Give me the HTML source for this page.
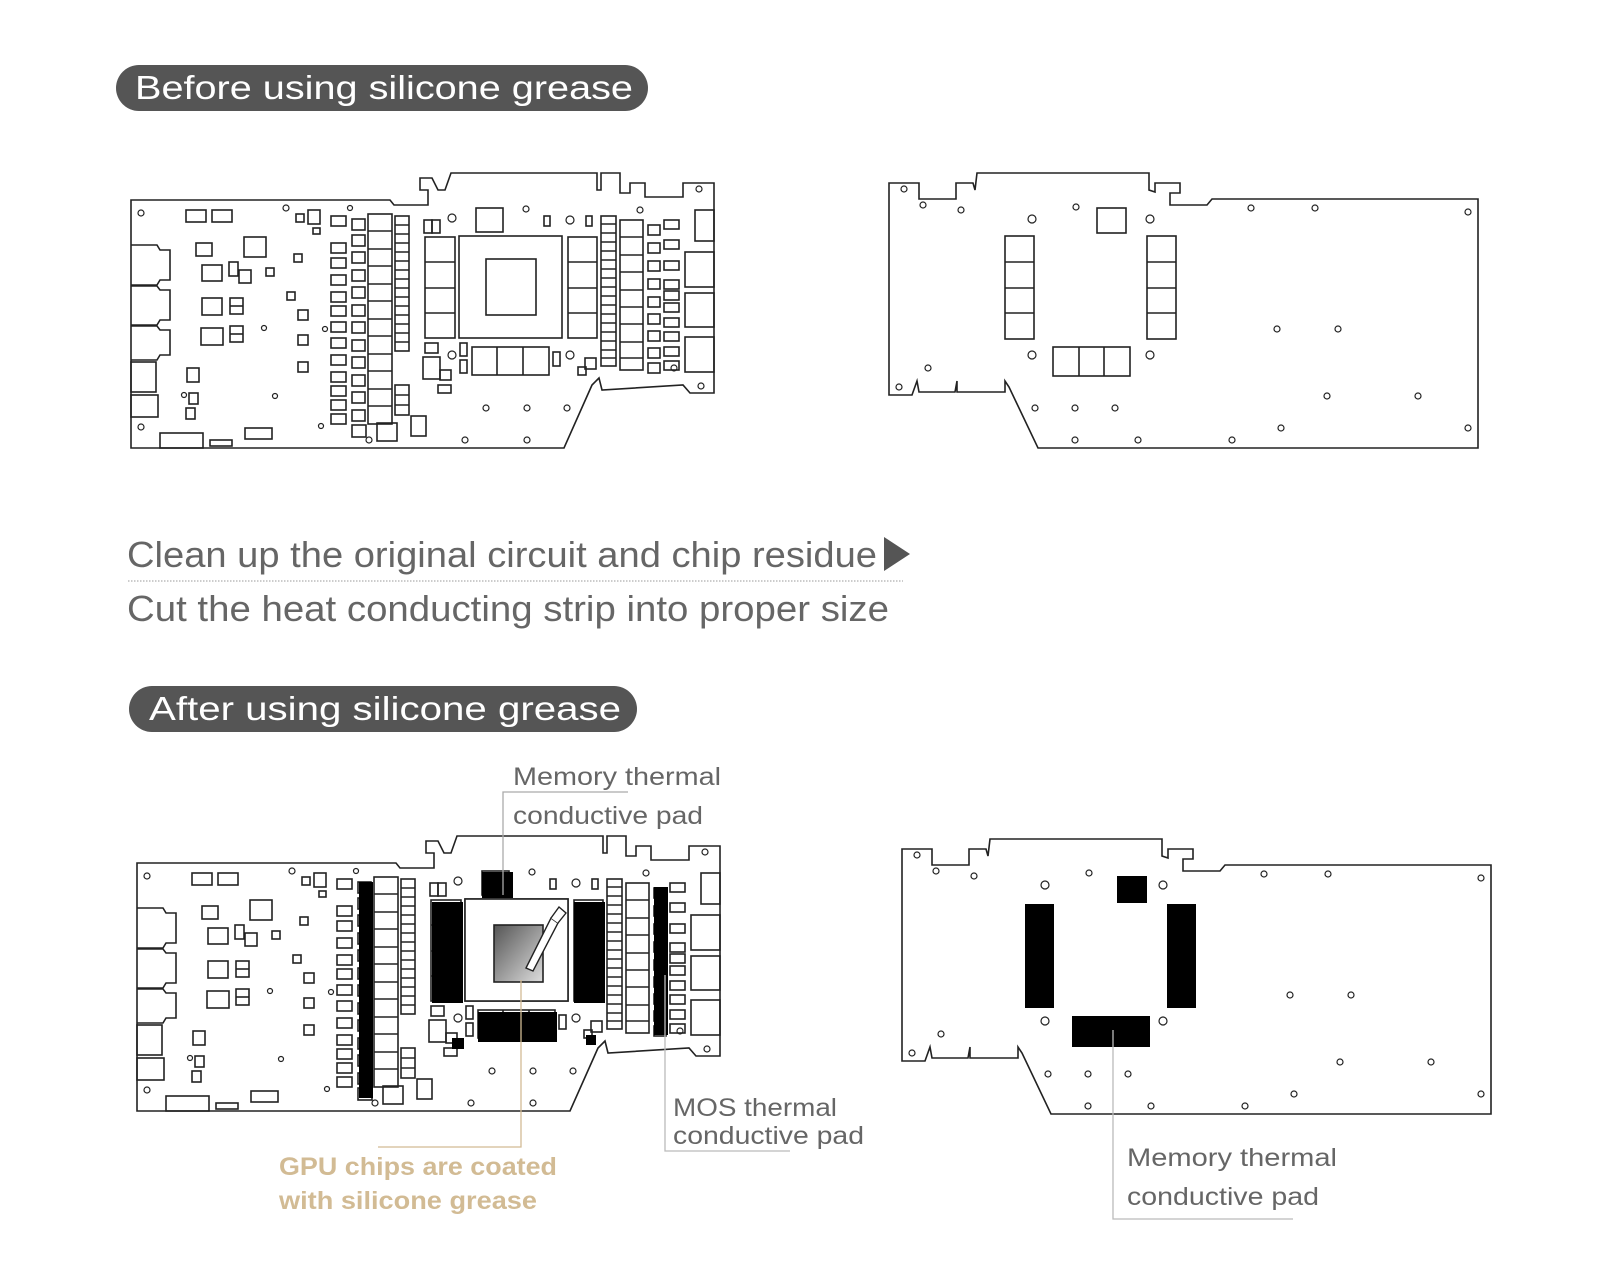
<!DOCTYPE html>
<html><head><meta charset="utf-8"><style>
html,body{margin:0;padding:0;background:#fff;}
svg{display:block;}
text{font-family:"Liberation Sans",sans-serif;}
</style></head><body>
<svg width="1600" height="1280" viewBox="0 0 1600 1280" xmlns="http://www.w3.org/2000/svg">
<defs>
<linearGradient id="gg" x1="0" y1="0" x2="1" y2="1"><stop offset="0" stop-color="#555"/><stop offset="1" stop-color="#ddd"/></linearGradient>
<g id="b1" fill="none" stroke="#222" stroke-width="1.6">
<path d="M131,200 L390,200 L394,205 L428,205 L428,190 L420,190 L420,178 L432,178 L438,190 L445,190 L451,173 L597,173 L597,190 L601,190 L601,173 L620,173 L620,193 L630,193 L630,183 L645,183 L645,197 L683,197 L683,183 L714,183 L714,393 L690,393 L683,385 L602,390 L599,378 L592,385 L564,448 L131,448 Z"/>
<path d="M131,245 L157,245 L160,250 L170,250 L170,280 L160,280 L157,285 L131,285"/>
<path d="M131,286 L157,286 L160,290 L170,290 L170,320 L160,320 L157,325 L131,325"/>
<path d="M131,326 L157,326 L160,330 L170,330 L170,355 L160,355 L157,360 L131,360"/>
<rect x="131" y="362" width="25" height="30"/><rect x="131" y="395" width="27" height="22"/>
<rect x="186" y="210" width="20" height="12"/><rect x="212" y="210" width="20" height="12"/>
<rect x="196" y="243" width="16" height="13"/><rect x="244" y="237" width="22" height="20"/>
<rect x="202" y="265" width="20" height="16"/><rect x="229" y="262" width="9" height="14"/><rect x="239" y="270" width="12" height="13"/>
<rect x="202" y="298" width="20" height="17"/><rect x="230" y="298" width="13" height="16"/><line x1="230" y1="306" x2="243" y2="306"/>
<rect x="201" y="328" width="22" height="17"/><rect x="230" y="326" width="13" height="16"/><line x1="230" y1="334" x2="243" y2="334"/>
<rect x="187" y="368" width="12" height="14"/><rect x="189" y="393" width="9" height="11"/><rect x="186" y="408" width="9" height="11"/>
<rect x="160" y="433" width="43" height="15"/><rect x="210" y="440" width="22" height="6"/><rect x="245" y="428" width="27" height="11"/>
<rect x="296" y="214" width="8" height="8"/><rect x="308" y="210" width="12" height="14"/><rect x="313" y="228" width="7" height="6"/>
<rect x="294" y="254" width="8" height="8"/><rect x="266" y="268" width="8" height="8"/><rect x="287" y="292" width="8" height="8"/>
<rect x="298" y="310" width="10" height="10"/><rect x="298" y="335" width="10" height="10"/><rect x="298" y="362" width="10" height="10"/>
<g><rect x="331" y="216" width="15" height="10"/><rect x="331" y="243" width="15" height="10"/><rect x="331" y="258" width="15" height="10"/><rect x="331" y="275" width="15" height="10"/><rect x="331" y="292" width="15" height="10"/><rect x="331" y="306" width="15" height="10"/><rect x="331" y="322" width="15" height="10"/><rect x="331" y="338" width="15" height="10"/><rect x="331" y="355" width="15" height="10"/><rect x="331" y="372" width="15" height="10"/><rect x="331" y="386" width="15" height="10"/><rect x="331" y="400" width="15" height="10"/><rect x="331" y="414" width="15" height="10"/></g>
<g><rect x="352" y="219" width="13" height="11"/><rect x="352" y="235" width="13" height="11"/><rect x="352" y="252" width="13" height="11"/><rect x="352" y="270" width="13" height="11"/><rect x="352" y="287" width="13" height="11"/><rect x="352" y="305" width="13" height="11"/><rect x="352" y="322" width="13" height="11"/><rect x="352" y="340" width="13" height="11"/><rect x="352" y="357" width="13" height="11"/><rect x="352" y="375" width="13" height="11"/><rect x="352" y="392" width="13" height="11"/><rect x="352" y="410" width="13" height="11"/></g>
<rect x="368" y="214" width="24" height="210"/>
<path d="M368,231 H392 M368,249 H392 M368,266 H392 M368,284 H392 M368,301 H392 M368,319 H392 M368,336 H392 M368,354 H392 M368,371 H392 M368,389 H392 M368,406 H392"/>
<rect x="395" y="216" width="14" height="135"/>
<path d="M395,225 H409 M395,234 H409 M395,243 H409 M395,252 H409 M395,261 H409 M395,270 H409 M395,279 H409 M395,288 H409 M395,297 H409 M395,306 H409 M395,315 H409 M395,324 H409 M395,333 H409 M395,342 H409"/>
<rect x="395" y="385" width="14" height="30"/><path d="M395,395 H409 M395,405 H409"/>
<rect x="411" y="416" width="15" height="20"/><rect x="377" y="423" width="20" height="18"/><rect x="352" y="425" width="14" height="12"/>
<rect x="424" y="220" width="8" height="13"/><rect x="432" y="220" width="8" height="13"/>
<rect x="476" y="208" width="27" height="24"/>
<rect x="425" y="237" width="30" height="101"/><path d="M425,262 H455 M425,288 H455 M425,313 H455"/>
<rect x="459" y="236" width="103" height="102"/><rect x="486" y="259" width="50" height="56"/>
<rect x="568" y="237" width="29" height="101"/><path d="M568,262 H597 M568,288 H597 M568,313 H597"/>
<rect x="472" y="347" width="77" height="28"/><path d="M497,347 V375 M523,347 V375"/>
<rect x="460" y="343" width="7" height="13"/><rect x="460" y="360" width="7" height="13"/>
<rect x="425" y="343" width="13" height="10"/><rect x="423" y="357" width="17" height="22"/><rect x="440" y="370" width="11" height="10"/><rect x="438" y="385" width="13" height="8"/>
<rect x="553" y="352" width="7" height="14"/><rect x="578" y="367" width="8" height="8"/><rect x="585" y="358" width="11" height="11"/>
<rect x="544" y="216" width="6" height="10"/><rect x="586" y="216" width="6" height="10"/>
<rect x="601" y="216" width="15" height="150"/>
<path d="M601,224 H616 M601,233 H616 M601,242 H616 M601,251 H616 M601,260 H616 M601,269 H616 M601,278 H616 M601,287 H616 M601,296 H616 M601,305 H616 M601,314 H616 M601,323 H616 M601,332 H616 M601,341 H616 M601,350 H616 M601,358 H616"/>
<rect x="620" y="220" width="23" height="150"/><path d="M620,237 H643 M620,255 H643 M620,272 H643 M620,290 H643 M620,307 H643 M620,324 H643 M620,342 H643 M620,358 H643"/>
<g><rect x="648" y="225" width="12" height="10"/><rect x="648" y="243" width="12" height="10"/><rect x="648" y="261" width="12" height="10"/><rect x="648" y="279" width="12" height="10"/><rect x="648" y="297" width="12" height="10"/><rect x="648" y="314" width="12" height="10"/><rect x="648" y="331" width="12" height="10"/><rect x="648" y="348" width="12" height="10"/><rect x="648" y="363" width="12" height="10"/></g>
<g><rect x="664" y="220" width="15" height="9"/><rect x="664" y="240" width="15" height="9"/><rect x="664" y="261" width="15" height="9"/><rect x="664" y="280" width="15" height="9"/><rect x="664" y="291" width="15" height="9"/><rect x="664" y="303" width="15" height="9"/><rect x="664" y="318" width="15" height="9"/><rect x="664" y="332" width="15" height="9"/><rect x="664" y="347" width="15" height="9"/><rect x="664" y="361" width="15" height="9"/></g>
<rect x="695" y="210" width="19" height="31"/><rect x="685" y="252" width="29" height="35"/><rect x="685" y="293" width="29" height="34"/><rect x="685" y="337" width="29" height="35"/>
<g stroke-width="1.2"><circle cx="141" cy="213" r="3"/><circle cx="141" cy="427" r="3"/><circle cx="286" cy="208" r="3"/><circle cx="350" cy="208" r="2.5"/><circle cx="264" cy="328" r="2.5"/><circle cx="325" cy="329" r="2.5"/><circle cx="184" cy="395" r="2.5"/><circle cx="275" cy="396" r="2.5"/><circle cx="321" cy="426" r="2.5"/><circle cx="452" cy="218" r="4"/><circle cx="526" cy="209" r="3"/><circle cx="570" cy="220" r="4"/><circle cx="452" cy="355" r="4"/><circle cx="570" cy="355" r="4"/><circle cx="640" cy="210" r="3"/><circle cx="699" cy="189" r="3"/><circle cx="701" cy="386" r="3"/><circle cx="674" cy="368" r="3"/><circle cx="486" cy="408" r="3"/><circle cx="527" cy="408" r="3"/><circle cx="567" cy="408" r="3"/><circle cx="465" cy="440" r="3"/><circle cx="527" cy="440" r="3"/><circle cx="369" cy="440" r="3"/></g>
</g>
<g id="b2f" fill="none" stroke="#222" stroke-width="1.6">
<path d="M889,183 L919,183 L919,199 L956,199 L956,183 L973,183 L975,190 L977,173 L1149,173 L1149,190 L1155,192 L1155,183 L1180,183 L1180,193 L1170,193 L1170,205 L1207,205 L1212,199 L1478,199 L1478,448 L1038,448 L1009,387 L1005,381 L1005,392 L957,392 L957,381 L955,392 L919,392 L917,381 L912,395 L889,395 Z"/>
<g stroke-width="1.2"><circle cx="1032" cy="219" r="4"/><circle cx="1150" cy="219" r="4"/><circle cx="1032" cy="355" r="4"/><circle cx="1150" cy="355" r="4"/><circle cx="904" cy="189" r="3"/><circle cx="923" cy="205" r="3"/><circle cx="961" cy="210" r="3"/><circle cx="1076" cy="207" r="3"/><circle cx="1251" cy="208" r="3"/><circle cx="1315" cy="208" r="3"/><circle cx="1468" cy="212" r="3"/><circle cx="1277" cy="329" r="3"/><circle cx="1338" cy="329" r="3"/><circle cx="928" cy="368" r="3"/><circle cx="899" cy="387" r="3"/><circle cx="1035" cy="408" r="3"/><circle cx="1075" cy="408" r="3"/><circle cx="1115" cy="408" r="3"/><circle cx="1327" cy="396" r="3"/><circle cx="1418" cy="396" r="3"/><circle cx="1281" cy="428" r="3"/><circle cx="1075" cy="440" r="3"/><circle cx="1138" cy="440" r="3"/><circle cx="1232" cy="440" r="3"/><circle cx="1468" cy="428" r="3"/></g>
</g>
<g id="b2m" fill="none" stroke="#222" stroke-width="1.6">
<rect x="1097" y="208" width="29" height="25"/>
<rect x="1005" y="236" width="29" height="103"/><path d="M1005,262 H1034 M1005,288 H1034 M1005,313 H1034"/>
<rect x="1147" y="236" width="29" height="103"/><path d="M1147,262 H1176 M1147,288 H1176 M1147,313 H1176"/>
<rect x="1053" y="347" width="77" height="29"/><path d="M1079,347 V376 M1104,347 V376"/>
</g>
</defs>

<rect x="116" y="65" width="532" height="46" rx="23" fill="#555"/>
<text x="135" y="99" font-size="33" fill="#fff" textLength="498" lengthAdjust="spacingAndGlyphs">Before using silicone grease</text>

<use href="#b1"/>
<use href="#b2f"/>
<use href="#b2m"/>

<text x="127" y="567" font-size="36" fill="#666" textLength="750" lengthAdjust="spacingAndGlyphs">Clean up the original circuit and chip residue</text>
<polygon points="884,537 910,554 884,571" fill="#555"/>
<line x1="128" y1="581" x2="903" y2="581" stroke="#999" stroke-width="1" stroke-dasharray="1.5,1.5"/>
<text x="127" y="621" font-size="36" fill="#666" textLength="762" lengthAdjust="spacingAndGlyphs">Cut the heat conducting strip into proper size</text>

<rect x="129" y="686" width="508" height="46" rx="23" fill="#555"/>
<text x="149" y="720" font-size="33" fill="#fff" textLength="472" lengthAdjust="spacingAndGlyphs">After using silicone grease</text>

<g transform="translate(6,663)">
<use href="#b1"/>
<g fill="#000">
<rect x="353" y="219" width="14" height="216"/>
<rect x="426" y="239" width="31" height="101"/>
<rect x="568" y="239" width="31" height="101"/>
<rect x="472" y="349" width="79" height="30"/>
<rect x="476" y="209" width="31" height="26"/>
<rect x="648" y="224" width="14" height="148"/>
<rect x="446" y="375" width="12" height="11"/>
<rect x="580" y="372" width="10" height="10"/>
</g>
<rect x="459" y="236" width="103" height="102" fill="#fff" stroke="#222" stroke-width="1.6"/>
<rect x="488" y="262" width="49" height="57" fill="url(#gg)" stroke="#222" stroke-width="1.6"/>
<path d="M520,305 L545,255 L552,260 L527,308 Z" fill="#fff" stroke="#222" stroke-width="1.4"/>
<path d="M545,255 L553,244 L560,250 L552,260" fill="#fff" stroke="#222" stroke-width="1.4"/>
</g>
<g transform="translate(13,666)">
<use href="#b2f"/>
<g fill="#000">
<rect x="1012" y="238" width="29" height="104"/>
<rect x="1154" y="238" width="29" height="104"/>
<rect x="1059" y="350" width="78" height="31"/>
<rect x="1104" y="210" width="30" height="27"/>
</g>
</g>

<g font-size="25" fill="#666">
<text x="513" y="785" textLength="208" lengthAdjust="spacingAndGlyphs">Memory thermal</text>
<text x="513" y="824" textLength="190" lengthAdjust="spacingAndGlyphs">conductive pad</text>
<text x="673" y="1116" textLength="164" lengthAdjust="spacingAndGlyphs">MOS thermal</text>
<text x="673" y="1144" textLength="191" lengthAdjust="spacingAndGlyphs">conductive pad</text>
<text x="1127" y="1166" textLength="210" lengthAdjust="spacingAndGlyphs">Memory thermal</text>
<text x="1127" y="1205" textLength="192" lengthAdjust="spacingAndGlyphs">conductive pad</text>
</g>
<g font-size="25" fill="#d2bb94" font-weight="bold">
<text x="279" y="1175" textLength="278" lengthAdjust="spacingAndGlyphs">GPU chips are coated</text>
<text x="279" y="1209" textLength="258" lengthAdjust="spacingAndGlyphs">with silicone grease</text>
</g>
<g fill="none" stroke-width="1.3">
<path d="M628,792 H503 V895" stroke="#aaa"/>
<path d="M665,975 V1151 H790" stroke="#bbb"/>
<path d="M1113,1030 V1219 H1293" stroke="#bbb"/>
<path d="M521,980 V1147 H378" stroke="#d2bb94"/>
</g>
</svg>
</body></html>
